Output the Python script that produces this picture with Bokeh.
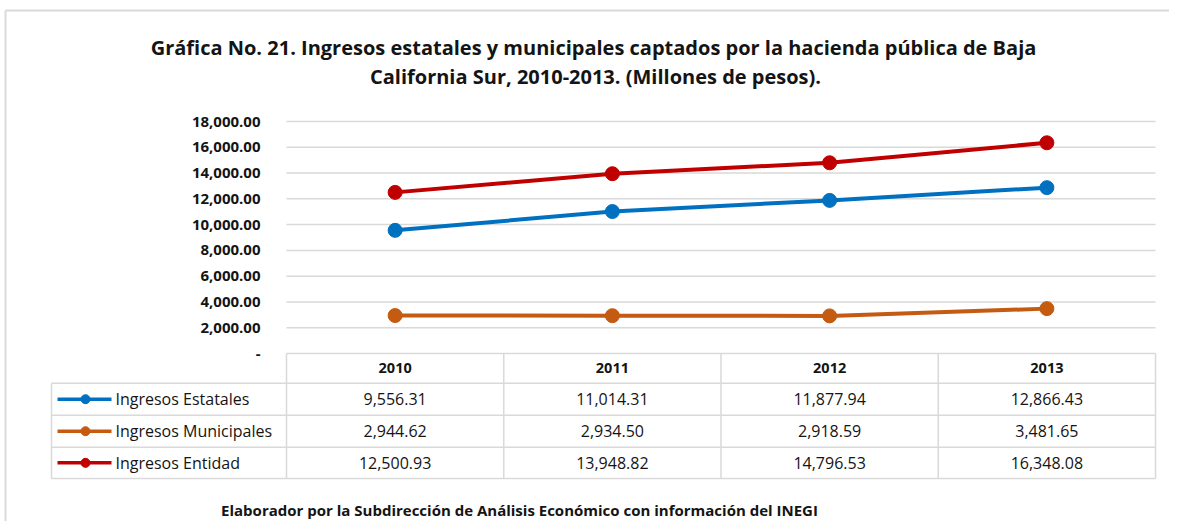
from bokeh.plotting import figure
from bokeh.models import Range1d
from bokeh.core.properties import value
from bokeh.embed import file_html
from bokeh.resources import INLINE

# ---------------- data ----------------
years = ["2010", "2011", "2012", "2013"]
series_names = ["Ingresos Estatales", "Ingresos Municipales", "Ingresos Entidad"]
estatales = [9556.31, 11014.31, 11877.94, 12866.43]
municipales = [2944.62, 2934.50, 2918.59, 3481.65]
entidad = [12500.93, 13948.82, 14796.53, 16348.08]
y_ticks = [0, 2000, 4000, 6000, 8000, 10000, 12000, 14000, 16000, 18000]
y_tick_labels = ["-", "2,000.00", "4,000.00", "6,000.00", "8,000.00", "10,000.00",
                 "12,000.00", "14,000.00", "16,000.00", "18,000.00"]
title_lines = ["Gráfica No. 21. Ingresos estatales y municipales captados por la hacienda pública de Baja",
               "California Sur, 2010-2013. (Millones de pesos)."]
footer = "Elaborador por la Subdirección de Análisis Económico con información del INEGI"

colors = ["#0070C0", "#C55A11", "#C00000"]
series = [estatales, municipales, entidad]

# ---------------- layout (picture pixels -> data units) ----------------
W, H = 1169, 521
PLOT_L, PLOT_R = 286, 1155   # plot area (px)
Y0_PX, YMAX_PX = 353, 121    # y=0 and y=18000 (px)
YMAX = 18000
CW = (PLOT_R - PLOT_L) / len(years)
K = YMAX / (Y0_PX - YMAX_PX)

def X(px):
    return (px - PLOT_L) / CW

def Y(py):
    return (Y0_PX - py) * K

p = figure(width=W, height=H, output_backend="svg", toolbar_location=None,
           x_range=Range1d(X(0), X(W)), y_range=Range1d(Y(H), Y(0)),
           min_border=0, outline_line_color=None)
p.axis.visible = False
p.grid.visible = False
p.background_fill_color = "white"
p.border_fill_color = "white"

FONT = value("Open Sans")
TXT = "#141414"
GRID = "#D9D9D9"

# outer frame lines
p.segment(x0=[X(5)], y0=[Y(10)], x1=[X(W)], y1=[Y(10)], line_color=GRID, line_width=2)
p.segment(x0=[X(5)], y0=[Y(10)], x1=[X(5)], y1=[Y(H)], line_color=GRID, line_width=2)

# title
p.text(x=[X(593), X(595)], y=[Y(47), Y(76)], text=title_lines, text_align="center",
       text_baseline="middle", text_font=FONT, text_font_style="bold",
       text_font_size="20px", text_color=TXT)

# gridlines
gt = [t for t in y_ticks if t > 0]
p.segment(x0=[0] * len(gt), y0=gt, x1=[len(years)] * len(gt), y1=gt,
          line_color=GRID, line_width=1.5)

# y tick labels
p.text(x=[X(260)] * len(y_ticks), y=y_ticks, text=y_tick_labels, text_align="right",
       text_baseline="middle", text_font=FONT, text_font_style="bold",
       text_font_size="15px", text_color=TXT)

# data table grid
TBL_L = X(51)
row_top = [Y(353), Y(382.7), Y(414.7), Y(446.7), Y(478)]
p.segment(x0=[0], y0=[row_top[0]], x1=[len(years)], y1=[row_top[0]], line_color=GRID, line_width=1.5)
p.segment(x0=[TBL_L] * 4, y0=row_top[1:], x1=[len(years)] * 4, y1=row_top[1:],
          line_color=GRID, line_width=1.5)
cols = list(range(len(years) + 1))
p.segment(x0=cols, y0=[row_top[0]] * len(cols), x1=cols, y1=[row_top[-1]] * len(cols),
          line_color=GRID, line_width=1.5)
p.segment(x0=[TBL_L], y0=[row_top[1]], x1=[TBL_L], y1=[row_top[-1]], line_color=GRID, line_width=1.5)

xc = [i + 0.5 for i in range(len(years))]
hdr_y = (row_top[0] + row_top[1]) / 2
p.text(x=xc, y=[hdr_y] * len(years), text=years, text_align="center", text_baseline="middle",
       text_font=FONT, text_font_style="bold", text_font_size="14.5px", text_color=TXT)

for i, (name, vals, c) in enumerate(zip(series_names, series, colors)):
    p.line(xc, vals, line_color=c, line_width=4)
    p.scatter(xc, vals, size=14, fill_color=c, line_color=c)
    ry = (row_top[i + 1] + row_top[i + 2]) / 2
    p.line([X(57), X(111)], [ry, ry], line_color=c, line_width=3.5)
    p.scatter([X(85)], [ry], size=9, fill_color=c, line_color=c)
    p.text(x=[X(115)], y=[ry], text=[name], text_align="left", text_baseline="middle",
           text_font=FONT, text_font_size="16px", text_color=TXT)
    p.text(x=xc, y=[ry] * len(vals), text=[f"{v:,.2f}" for v in vals], text_align="center",
           text_baseline="middle", text_font=FONT, text_font_size="16px", text_color=TXT)

# footer
p.text(x=[X(519)], y=[Y(509)], text=[footer], text_align="center", text_baseline="middle",
       text_font=FONT, text_font_style="bold", text_font_size="15px", text_color=TXT)

open("out.html", "w").write(file_html(p, INLINE))
